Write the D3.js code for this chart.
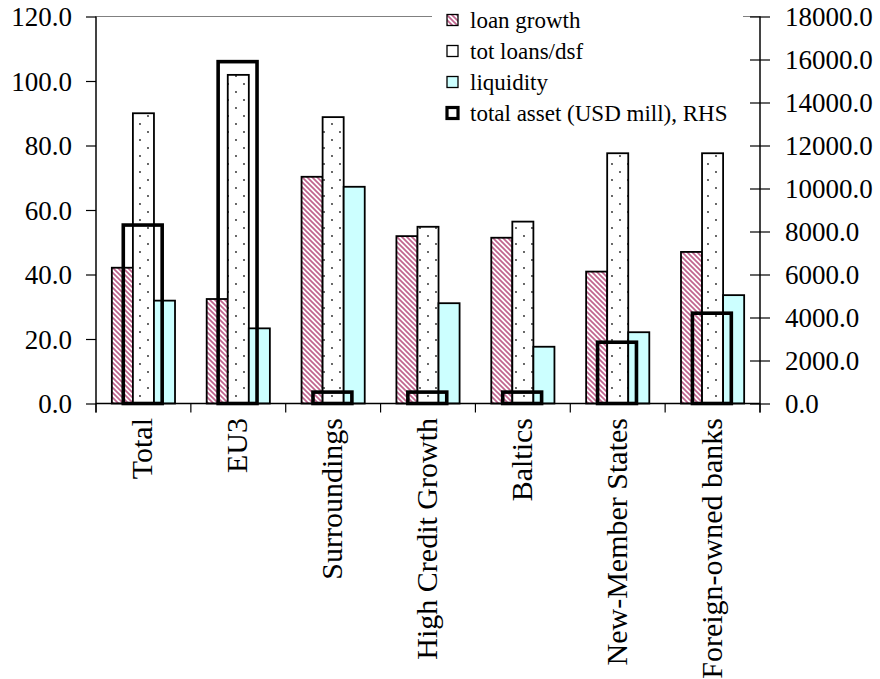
<!DOCTYPE html>
<html>
<head>
<meta charset="utf-8">
<script src="https://cdn.jsdelivr.net/npm/d3@7"></script>
<style>
  html, body { margin: 0; padding: 0; background: #fff; }
  svg { display: block; }
</style>
</head>
<body>
<div id="chart"></div>
<script>
// Bank group indicators (LHS, %) and total assets (RHS, USD mill)
const categories = ["Total", "EU3", "Surroundings", "High Credit Growth", "Baltics", "New-Member States", "Foreign-owned banks"];
const loanGrowth = [42.1, 32.4, 70.3, 51.9, 51.4, 40.9, 47.0];
const totLoans   = [90.0, 101.9, 88.8, 54.8, 56.4, 77.6, 77.6];
const liquidity  = [31.9, 23.3, 67.2, 31.1, 17.6, 22.1, 33.6];
const totalAsset = [8300, 15900, 530, 530, 530, 2850, 4200];

const leftTicks  = [0, 20, 40, 60, 80, 100, 120];
const rightTicks = [0, 2000, 4000, 6000, 8000, 10000, 12000, 14000, 16000, 18000];
const seriesNames = ["loan growth", "tot loans/dsf", "liquidity"];
const assetName = "total asset (USD mill), RHS";

const FONT = "Liberation Serif, Times New Roman, Times, serif";
const W = 880, H = 679;
const plot = { left: 96, right: 760, top: 16.5, bottom: 403.5 };

const svg = d3.select("#chart").append("svg")
  .attr("width", W).attr("height", H)
  .attr("font-family", FONT);

// fill patterns
const defs = svg.append("defs");
const hatch = defs.append("pattern")
  .attr("id", "hatch").attr("patternUnits", "userSpaceOnUse")
  .attr("width", 5).attr("height", 5);
hatch.append("rect").attr("width", 5).attr("height", 5).attr("fill", "#fff");
hatch.append("path")
  .attr("d", "M-1,-1L6,6M-3.5,1.5L1.5,6.5M1.5,-3.5L6.5,1.5")
  .attr("stroke", "#c0648e").attr("stroke-width", 1.7);

const dots = defs.append("pattern")
  .attr("id", "dots").attr("patternUnits", "userSpaceOnUse")
  .attr("width", 16).attr("height", 16);
dots.append("rect").attr("width", 16).attr("height", 16).attr("fill", "#fff");
dots.append("circle").attr("cx", 4).attr("cy", 4).attr("r", 0.9).attr("fill", "#222");
dots.append("circle").attr("cx", 12).attr("cy", 12).attr("r", 0.9).attr("fill", "#222");

const fills = ["url(#hatch)", "url(#dots)", "#ccffff"];

// scales
const x = d3.scaleBand().domain(categories).range([plot.left, plot.right]).padding(0);
const bw = x.bandwidth();
const xs = d3.scaleBand().domain(seriesNames).range([bw * 0.167, bw * 0.833]).padding(0);
const yL = d3.scaleLinear().domain([0, 120]).range([plot.bottom, plot.top]);
const yR = d3.scaleLinear().domain([0, 18000]).range([plot.bottom, plot.top]);

// plot area frame
svg.append("rect")
  .attr("x", plot.left).attr("y", plot.top)
  .attr("width", plot.right - plot.left).attr("height", plot.bottom - plot.top)
  .attr("fill", "none").attr("stroke", "#808080").attr("stroke-width", 1);

// LHS bars
const seriesData = [loanGrowth, totLoans, liquidity];
seriesData.forEach((vals, si) => {
  svg.append("g").selectAll("rect")
    .data(vals)
    .join("rect")
    .attr("x", (d, i) => x(categories[i]) + xs(seriesNames[si]))
    .attr("y", d => yL(d))
    .attr("width", xs.bandwidth())
    .attr("height", d => yL(0) - yL(d))
    .attr("fill", fills[si])
    .attr("stroke", "#000")
    .attr("stroke-width", 1.8);
});

// RHS total asset outlines
const aw = bw * 0.41;
svg.append("g").selectAll("rect")
  .data(totalAsset)
  .join("rect")
  .attr("x", (d, i) => x(categories[i]) + bw / 2 - aw / 2 - 0.7)
  .attr("y", d => yR(d))
  .attr("width", aw)
  .attr("height", d => yR(0) - yR(d))
  .attr("fill", "none")
  .attr("stroke", "#000")
  .attr("stroke-width", 3.6);

// left axis
const gl = svg.append("g").attr("transform", `translate(${plot.left},0)`)
  .call(d3.axisLeft(yL).tickValues(leftTicks).tickSize(10).tickSizeOuter(0).tickFormat(d3.format(".1f")));
gl.attr("font-family", FONT).attr("font-size", 27);
gl.select(".domain").attr("stroke", "#000").attr("stroke-width", 1.3)
  .attr("d", `M0,${plot.top}V${plot.bottom + 9}`);
gl.selectAll(".tick line").attr("stroke", "#000").attr("stroke-width", 1.2);
gl.selectAll(".tick text").attr("x", -24).attr("dy", "0.35em")
  .attr("font-family", FONT).attr("font-size", 27).attr("fill", "#000");

// right axis: ticks cross the axis line
const gr = svg.append("g").attr("transform", `translate(${plot.right},0)`)
  .call(d3.axisRight(yR).tickValues(rightTicks).tickSize(0).tickSizeOuter(0).tickFormat(d3.format(".1f")));
gr.attr("font-family", FONT).attr("font-size", 27);
gr.select(".domain").attr("stroke", "#000").attr("stroke-width", 1.3)
  .attr("d", `M0,${plot.top}V${plot.bottom + 9}`);
gr.selectAll(".tick line").attr("x1", -10).attr("x2", 10).attr("stroke", "#000").attr("stroke-width", 1.2);
gr.selectAll(".tick text").attr("x", 25).attr("dy", "0.35em")
  .attr("font-family", FONT).attr("font-size", 27).attr("fill", "#000");

// category axis
const gx = svg.append("g").attr("transform", `translate(0,${plot.bottom})`)
  .call(d3.axisBottom(x).tickSize(0).tickSizeOuter(0).tickFormat(""));
gx.select(".domain").attr("stroke", "#000").attr("stroke-width", 1.3)
  .attr("d", `M${plot.left},0H${plot.right}`);
gx.selectAll(".tick").remove();
const bounds = categories.map(c => x(c)).concat([plot.right]);
gx.selectAll("line.sep").data(bounds).join("line")
  .attr("class", "sep")
  .attr("x1", d => d).attr("x2", d => d)
  .attr("y1", 0).attr("y2", 9)
  .attr("stroke", "#000").attr("stroke-width", 1.2);

svg.append("g").selectAll("text")
  .data(categories)
  .join("text")
  .attr("transform", d => `translate(${x(d) + bw / 2 + 9},418) rotate(-90)`)
  .attr("text-anchor", "end")
  .attr("font-family", FONT)
  .attr("font-size", 30)
  .attr("fill", "#000")
  .text(d => d);

// legend
const lg = svg.append("g");
lg.append("rect").attr("x", 432).attr("y", 4).attr("width", 311).attr("height", 124).attr("fill", "#fff");
const legendItems = [
  { name: seriesNames[0], fill: "url(#hatch)", sw: 1.3 },
  { name: seriesNames[1], fill: "#fff", sw: 1.3 },
  { name: seriesNames[2], fill: "#ccffff", sw: 1.3 },
  { name: assetName, fill: "#fff", sw: 3.2 }
];
const li = lg.selectAll("g.item").data(legendItems).join("g")
  .attr("class", "item")
  .attr("transform", (d, i) => `translate(447,${20 + i * 31})`);
li.append("rect")
  .attr("x", 0).attr("y", -5.5).attr("width", 11).attr("height", 11)
  .attr("fill", d => d.fill).attr("stroke", "#000").attr("stroke-width", d => d.sw);
li.append("text")
  .attr("x", 23).attr("dy", "0.33em")
  .attr("font-family", FONT)
  .attr("font-size", 23)
  .attr("fill", "#000")
  .text(d => d.name);
</script>
</body>
</html>
